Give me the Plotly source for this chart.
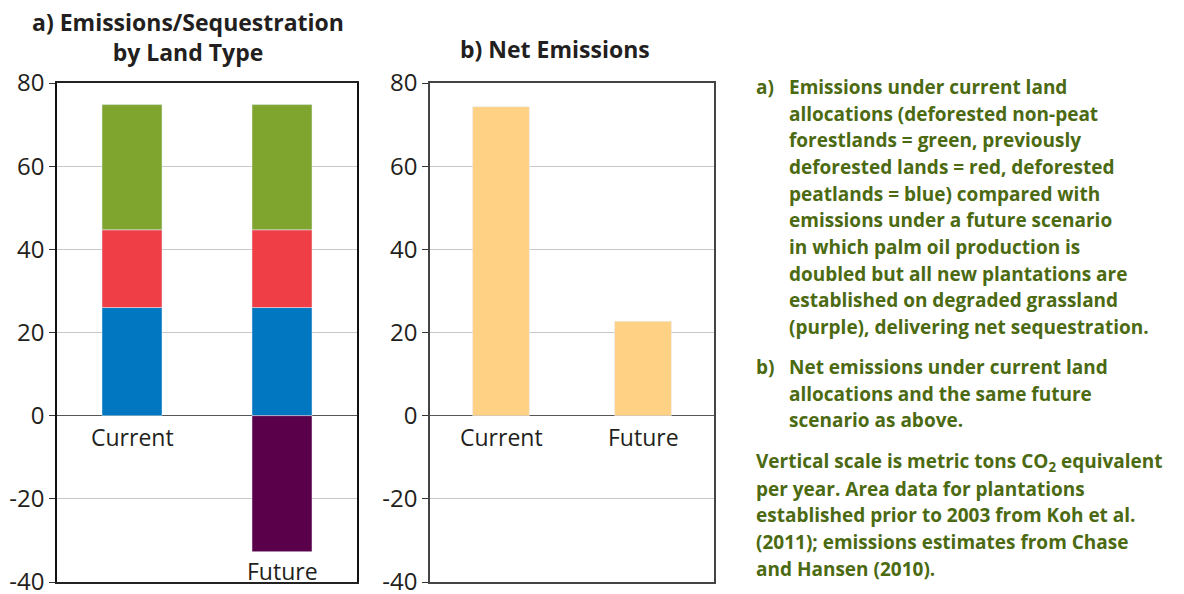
import plotly.graph_objects as go

categories = ["Current", "Future"]
peat_blue = [26.0, 26.0]
prev_red = [18.7, 18.7]
forest_green = [30.1, 30.1]
grassland_purple = [None, -32.7]
net_emissions = [74.3, 22.7]

tick_vals = [-40, -20, 0, 20, 40, 60, 80]
tick_text = ["-40", "-20", "0", "20", "40", "60", "80"]

OFF = 8  # page body margin
W, H = 1184 - OFF, 594 - OFF
DARK = "#231f20"
GREEN_TXT = "#4b6a12"

def px(x):
    return (x - OFF) / W

def py(y):
    return 1 - (y - OFF) / H

fig = go.Figure()
fig.add_trace(go.Bar(x=categories, y=peat_blue, marker_color="#0077c0", width=0.4,
                     xaxis="x", yaxis="y", name="Deforested peatlands"))
fig.add_trace(go.Bar(x=categories, y=prev_red, marker_color="#ef3e45", width=0.4,
                     xaxis="x", yaxis="y", name="Previously deforested lands"))
fig.add_trace(go.Bar(x=categories, y=forest_green, marker_color="#7fa52f", width=0.4,
                     xaxis="x", yaxis="y", name="Deforested non-peat forestlands"))
fig.add_trace(go.Bar(x=categories, y=grassland_purple, marker_color="#5a004b", width=0.4,
                     xaxis="x", yaxis="y", name="Degraded grassland"))
fig.add_trace(go.Bar(x=categories, y=net_emissions, marker_color="#ffd185", width=0.4,
                     xaxis="x2", yaxis="y2", name="Net emissions"))

ydom = [py(582), py(83)]
yax = dict(range=[-40, 80], tickvals=tick_vals, ticktext=tick_text, showgrid=True,
           gridcolor="#c8c8c8", gridwidth=1, zeroline=True, zerolinecolor="#555555",
           zerolinewidth=1.2, showline=True, linewidth=1.5,
           mirror=True, ticks="outside", ticklen=6, tickcolor="#333333",
           tickfont=dict(family="Open Sans", size=24, color=DARK), domain=ydom,
           ticklabeloverflow="allow",
           fixedrange=True, automargin=False)
xax = dict(range=[-0.5, 1.5], showticklabels=False, ticks="", showgrid=False,
           showline=True, linewidth=1.5, mirror=True, zeroline=False,
           automargin=False, fixedrange=True)

fig.update_layout(
    width=W, height=H, barmode="relative", showlegend=False,
    plot_bgcolor="white", paper_bgcolor="white",
    margin=dict(l=0, r=0, t=0, b=0, pad=0, autoexpand=False),
    xaxis=dict(xax, domain=[px(57), px(357)], anchor="y", linecolor="#222222"),
    yaxis=dict(yax, anchor="x", linecolor="#111111"),
    xaxis2=dict(xax, domain=[px(430), px(714)], anchor="y2", linecolor="#444444"),
    yaxis2=dict(yax, anchor="x2", linecolor="#444444"),
)

ann = []
tfont = dict(family="Open Sans", size=23, color=DARK)
def pann(text, x, y, font, xanchor="center"):
    ann.append(dict(text=text, x=px(x), y=py(y), xref="paper", yref="paper",
                    xanchor=xanchor, yanchor="middle", showarrow=False, font=font))

# titles
pann("<b>a) Emissions/Sequestration<br>by Land Type</b>", 188, 37, tfont)
pann("<b>b) Net Emissions</b>", 555, 49, tfont)

# category labels
catfont = dict(family="Open Sans", size=23, color=DARK)
ann.append(dict(text=categories[0], x=categories[0], y=0, xref="x", yref="y", yanchor="top", yshift=-3,
                showarrow=False, font=catfont))
ann.append(dict(text=categories[1], x=categories[1], y=grassland_purple[1], xref="x", yref="y",
                yanchor="top", yshift=-1, showarrow=False, font=catfont))
for c in categories:
    ann.append(dict(text=c, x=c, y=0, xref="x2", yref="y2", yanchor="top", yshift=-3,
                    showarrow=False, font=catfont))

# right-hand caption
txtfont = dict(family="Open Sans", size=19, color=GREEN_TXT)
lines_a = ["Emissions under current land",
           "allocations (deforested non-peat",
           "forestlands = green, previously",
           "deforested lands = red, deforested",
           "peatlands = blue) compared with",
           "emissions under a future scenario",
           "in which palm oil production is",
           "doubled but all new plantations are",
           "established on degraded grassland",
           "(purple), delivering net sequestration."]
lines_b = ["Net emissions under current land",
           "allocations and the same future",
           "scenario as above."]
lines_c = ["Vertical scale is metric tons CO<sub>2</sub> equivalent",
           "per year. Area data for plantations",
           "established prior to 2003 from Koh et al.",
           "(2011); emissions estimates from Chase",
           "and Hansen (2010)."]
step = 26.65
def add_lines(lines, y0, x0):
    for i, t in enumerate(lines):
        pann("<b>" + t + "</b>", x0, y0 + i * step, txtfont, xanchor="left")

pann("<b>a)</b>", 754, 87, txtfont, xanchor="left")
pann("<b>b)</b>", 754, 367, txtfont, xanchor="left")
add_lines(lines_a, 87, 787)
add_lines(lines_b, 367, 787)
add_lines(lines_c, 462, 754)

fig.update_layout(annotations=ann)
fig.write_html("out.html")
